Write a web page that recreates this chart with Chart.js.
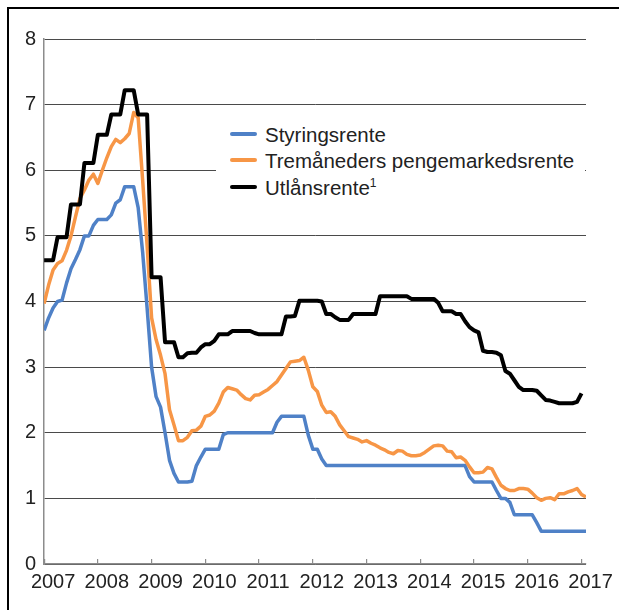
<!DOCTYPE html>
<html lang="no">
<head>
<meta charset="utf-8">
<title>Styringsrente, pengemarkedsrente og utlånsrente</title>
<script src="https://cdn.jsdelivr.net/npm/chart.js@4/dist/chart.umd.min.js"></script>
<style>
    html, body {
        margin: 0;
        padding: 0;
        background: #fff;
    }

    #wrap {
        position: relative;
        width: 619px;
        height: 610px;
        overflow: hidden;
    }

    #frame {
        position: absolute;
        left: 7px;
        top: 7px;
        width: 700px;
        height: 700px;
        border-left: 2px solid #000;
        border-top: 2px solid #000;
        pointer-events: none;
    }

    #legend {
        position: absolute;
        left: 216px;
        top: 116px;
        width: 369px;
        height: 86px;
        background: #fff;
        font-family: 'Liberation Sans', Arial, sans-serif;
        font-size: 20.5px;
        color: #222;
    }

    .row {
        position: absolute;
        left: 14px;
        height: 26px;
        line-height: 26px;
        white-space: nowrap;
    }

    .swatch {
        display: inline-block;
        width: 27px;
        height: 4px;
        margin-right: 8px;
        vertical-align: 6px;
        border-radius: 2px;
    }

    .sup {
        font-size: 12px;
        position: relative;
        top: -8px;
    }
</style>
</head>
<body>
<div id="wrap">
    <canvas id="rateChart" width="619" height="610"></canvas>
    <div id="legend">
        <div class="row" style="top: 6px;"><span class="swatch" style="background: #4f81c7;"></span>Styringsrente</div>
        <div class="row" style="top: 32px;"><span class="swatch" style="background: #f79646;"></span>Tremåneders pengemarkedsrente</div>
        <div class="row" style="top: 59px;"><span class="swatch" style="background: #000;"></span>Utlånsrente<span class="sup">1</span></div>
    </div>
    <div id="frame"></div>
</div>

<script>
// Månedlige observasjoner, jan 2007 = 0
const months = [
    0, 1, 2, 3, 4, 5, 6, 7, 8, 9, 10, 11,
    12, 13, 14, 15, 16, 17, 18, 19, 20, 21, 22, 23,
    24, 25, 26, 27, 28, 29, 30, 31, 32, 33, 34, 35,
    36, 37, 38, 39, 40, 41, 42, 43, 44, 45, 46, 47,
    48, 49, 50, 51, 52, 53, 54, 55, 56, 57, 58, 59,
    60, 61, 62, 63, 64, 65, 66, 67, 68, 69, 70, 71,
    72, 73, 74, 75, 76, 77, 78, 79, 80, 81, 82, 83,
    84, 85, 86, 87, 88, 89, 90, 91, 92, 93, 94, 95,
    96, 97, 98, 99, 100, 101, 102, 103, 104, 105, 106, 107,
    108, 109, 110, 111, 112, 113, 114, 115, 116, 117, 118, 119,
    120, 121
];

const styringsrente = [
    3.56, 3.75, 3.90, 4.00, 4.02, 4.28, 4.50, 4.64, 4.79, 5.00,
    5.00, 5.16, 5.25, 5.25, 5.25, 5.32, 5.50, 5.55, 5.75, 5.75,
    5.75, 5.43, 4.75, 3.90, 3.00, 2.55, 2.39, 2.00, 1.58, 1.38,
    1.25, 1.25, 1.25, 1.26, 1.50, 1.63, 1.75, 1.75, 1.75, 1.75,
    1.97, 2.00, 2.00, 2.00, 2.00, 2.00, 2.00, 2.00, 2.00, 2.00,
    2.00, 2.00, 2.16, 2.25, 2.25, 2.25, 2.25, 2.25, 2.25, 1.96,
    1.75, 1.75, 1.60, 1.50, 1.50, 1.50, 1.50, 1.50, 1.50, 1.50,
    1.50, 1.50, 1.50, 1.50, 1.50, 1.50, 1.50, 1.50, 1.50, 1.50,
    1.50, 1.50, 1.50, 1.50, 1.50, 1.50, 1.50, 1.50, 1.50, 1.50,
    1.50, 1.50, 1.50, 1.50, 1.50, 1.33, 1.25, 1.25, 1.25, 1.25,
    1.25, 1.12, 1.00, 1.00, 0.94, 0.75, 0.75, 0.75, 0.75, 0.75,
    0.63, 0.50, 0.50, 0.50, 0.50, 0.50, 0.50, 0.50, 0.50, 0.50,
    0.50, 0.50
];

const tremaanedersRente = [
    3.97, 4.25, 4.48, 4.58, 4.62, 4.78, 5.00, 5.29, 5.57, 5.70,
    5.85, 5.94, 5.80, 6.00, 6.19, 6.36, 6.47, 6.42, 6.48, 6.56,
    6.88, 6.80, 5.85, 4.85, 3.75, 3.42, 3.18, 2.90, 2.35, 2.12,
    1.88, 1.88, 1.93, 2.03, 2.04, 2.10, 2.25, 2.27, 2.33, 2.45,
    2.62, 2.69, 2.67, 2.65, 2.58, 2.52, 2.50, 2.57, 2.58, 2.62,
    2.66, 2.72, 2.78, 2.88, 2.98, 3.08, 3.09, 3.10, 3.15, 2.95,
    2.70, 2.63, 2.42, 2.31, 2.32, 2.25, 2.12, 2.03, 1.94, 1.92,
    1.90, 1.86, 1.88, 1.84, 1.81, 1.77, 1.74, 1.70, 1.68, 1.73,
    1.72, 1.67, 1.65, 1.65, 1.66, 1.70, 1.75, 1.80, 1.81, 1.80,
    1.72, 1.71, 1.62, 1.63, 1.58, 1.48, 1.39, 1.39, 1.40, 1.47,
    1.45, 1.32, 1.20, 1.15, 1.12, 1.12, 1.15, 1.15, 1.14, 1.08,
    1.01, 0.97, 1.00, 1.01, 0.98, 1.07, 1.07, 1.10, 1.12, 1.15,
    1.06, 1.02
];

const utlaansrente = [
    4.63, 4.63, 4.63, 4.98, 4.98, 4.98, 5.48, 5.48, 5.48, 6.11,
    6.11, 6.11, 6.54, 6.54, 6.54, 6.85, 6.85, 6.85, 7.22, 7.22,
    7.22, 6.85, 6.85, 6.85, 4.37, 4.37, 4.37, 3.38, 3.38, 3.38,
    3.15, 3.15, 3.21, 3.22, 3.22, 3.30, 3.35, 3.35, 3.40, 3.50,
    3.50, 3.50, 3.55, 3.55, 3.55, 3.55, 3.55, 3.52, 3.50, 3.50,
    3.50, 3.50, 3.50, 3.50, 3.77, 3.77, 3.78, 4.01, 4.01, 4.01,
    4.01, 4.01, 4.00, 3.81, 3.81, 3.76, 3.72, 3.72, 3.72, 3.81,
    3.81, 3.81, 3.81, 3.81, 3.81, 4.08, 4.08, 4.08, 4.08, 4.08,
    4.08, 4.08, 4.04, 4.04, 4.04, 4.04, 4.04, 4.04, 3.98, 3.85,
    3.85, 3.85, 3.81, 3.81, 3.70, 3.61, 3.56, 3.53, 3.25, 3.23,
    3.23, 3.22, 3.18, 2.94, 2.90, 2.80, 2.70, 2.65, 2.65, 2.65,
    2.64, 2.57, 2.50, 2.49, 2.47, 2.45, 2.45, 2.45, 2.45, 2.47,
    2.60
];

// Årsmerker på x-aksen (januar hvert år)
const yearTicks = [0, 12, 24, 36, 48, 60, 72, 84, 96, 108, 120];
const yearLabels = ['2007', '2008', '2009', '2010', '2011', '2012', '2013', '2014', '2015', '2016', '2017'];

Chart.defaults.font.family = "'Liberation Sans', Arial, sans-serif";
Chart.defaults.font.size = 20;
Chart.defaults.color = '#222';

const ctx = document.getElementById('rateChart').getContext('2d');

new Chart(ctx, {
    type: 'line',
    data: {
        labels: months,
        datasets: [
            {
                label: 'Styringsrente',
                data: styringsrente,
                borderColor: '#4f81c7',
                borderWidth: 3.5,
                order: 3
            },
            {
                label: 'Tremåneders pengemarkedsrente',
                data: tremaanedersRente,
                borderColor: '#f79646',
                borderWidth: 3.5,
                order: 2
            },
            {
                label: 'Utlånsrente',
                data: utlaansrente,
                borderColor: '#000',
                borderWidth: 4,
                order: 1
            }
        ]
    },
    options: {
        responsive: false,
        animation: false,
        layout: {
            padding: { left: 17, top: 39, right: 33, bottom: 5 }
        },
        elements: {
            point: { radius: 0 },
            line: { tension: 0, borderJoinStyle: 'round', borderCapStyle: 'butt' }
        },
        plugins: {
            legend: { display: false },
            tooltip: { enabled: false }
        },
        scales: {
            x: {
                type: 'linear',
                min: 0,
                max: 121,
                afterBuildTicks: function(scale) {
                    scale.ticks = yearTicks.map(v => ({ value: v }));
                },
                ticks: {
                    autoSkip: false,
                    maxRotation: 0,
                    padding: 11,
                    labelOffset: 9,
                    callback: function(value, index) {
                        return yearLabels[index];
                    }
                },
                grid: {
                    drawOnChartArea: false,
                    drawTicks: true,
                    tickLength: -5,
                    color: '#8c8c8c',
                    lineWidth: 1.2
                },
                border: { color: '#8c8c8c', width: 1.5 }
            },
            y: {
                min: 0,
                max: 8,
                ticks: {
                    stepSize: 1,
                    padding: 8
                },
                grid: {
                    color: '#4a4a4a',
                    lineWidth: 1,
                    drawTicks: false
                },
                border: { color: '#8c8c8c', width: 1.5 }
            }
        }
    }
});
</script>
</body>
</html>
